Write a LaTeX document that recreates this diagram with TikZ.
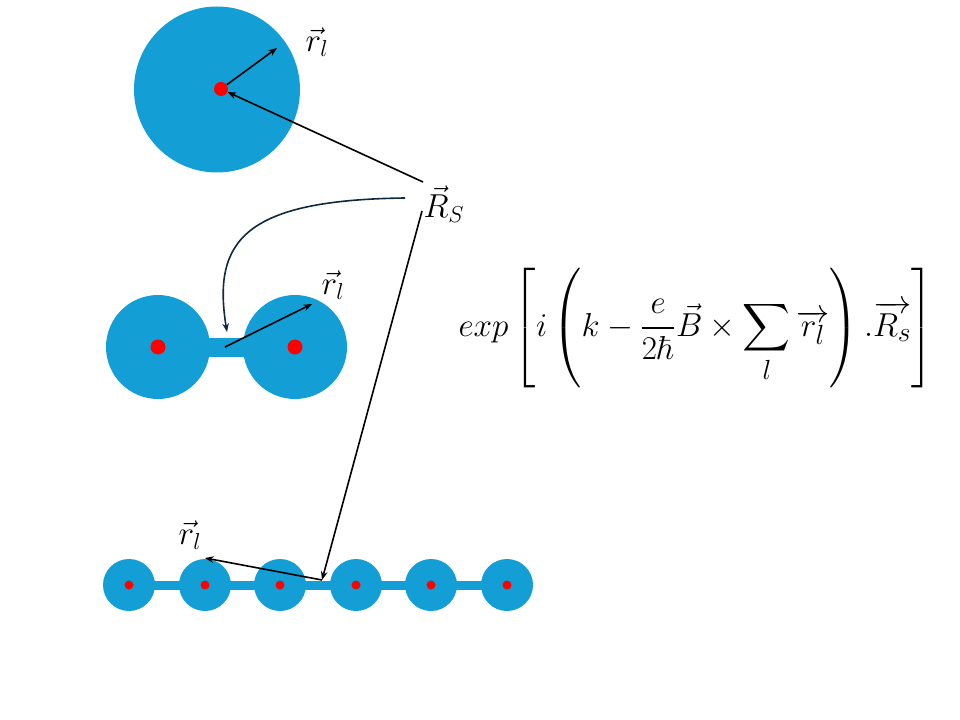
\documentclass[tikz,border=0pt]{standalone}
\usepackage{amsmath}
\usetikzlibrary{arrows.meta}
\definecolor{ballblue}{RGB}{19,159,214}
\definecolor{navy}{RGB}{14,42,62}
\tikzset{
  ball/.style={circle,fill=ballblue,draw=none,inner sep=0pt,minimum size=#1},
  dot/.style={circle,fill=red,draw=none,inner sep=0pt,minimum size=#1},
  vecarrow/.style={-{Stealth[length=6.5pt,width=5pt]},line width=1.2pt,black},
  lbl/.style={inner sep=0pt,font=\fontsize{23}{27}\selectfont}
}
\begin{document}
\begin{tikzpicture}[x=0.75pt,y=-0.75pt]
\useasboundingbox (0,0) rectangle (960,720);
% top atom
\node[ball=124.5pt] (top) at (217,89.5) {};
\node[dot=10.5pt] (d0) at (221,89) {};
\coordinate (r0) at (277,48);
\node[lbl] (rl0) at (317,42) {$\vec{r}_l$};
\draw[vecarrow] (d0) -- (r0);
% R_s label
\node[lbl] (Rs) at (444,204) {$\vec{R}_S$};
\coordinate (rs1) at (423,182);
\coordinate (rs2) at (405,198);
\coordinate (rs3) at (422,211);
\draw[vecarrow] (rs1) -- (d0);
% middle molecule
\fill[ballblue] (158,338) rectangle (295,357);
\node[ball=78pt] (mA) at (158,347) {};
\node[ball=78pt] (mB) at (295,347) {};
\node[dot=11.25pt] (dA) at (158,347) {};
\node[dot=11.25pt] (dB) at (295,347) {};
\coordinate (mbond) at (227,332);
\coordinate (mstart) at (225,347);
\coordinate (r1) at (312,304);
\node[lbl] (rl1) at (333,285) {$\vec{r}_l$};
\draw[vecarrow] (mstart) -- (r1);
\draw[-{Stealth[length=6.5pt,width=5pt]},line width=1.2pt,navy] (rs2) .. controls (245,200) and (212,240) .. (mbond);
% bottom chain
\fill[ballblue] (129,581) rectangle (507,590);
\foreach \i/\x in {1/129,2/205,3/280,4/356,5/431,6/507}{
  \node[ball=39pt] (b\i) at (\x,585) {};
  \node[circle,fill=red,inner sep=0pt,minimum width=6.75pt,minimum height=5.5pt] (bd\i) at (\x,585) {};
}
\coordinate (bpt) at (322,580);
\coordinate (r2) at (205,558);
\node[lbl] (rl2) at (190,535) {$\vec{r}_l$};
\draw[vecarrow] (rs3) -- (bpt);
\draw[vecarrow] (bpt) -- (r2);
% formula
\node[inner sep=0pt,font=\fontsize{28}{34}\selectfont] (eq) at (696,328)
  {$\displaystyle exp\left[i\left(k-\frac{e}{2\hbar}\vec{B}\times\sum_{l}\overrightarrow{r_l}\right).\overrightarrow{R_s}\right]$};
\end{tikzpicture}
\end{document}
